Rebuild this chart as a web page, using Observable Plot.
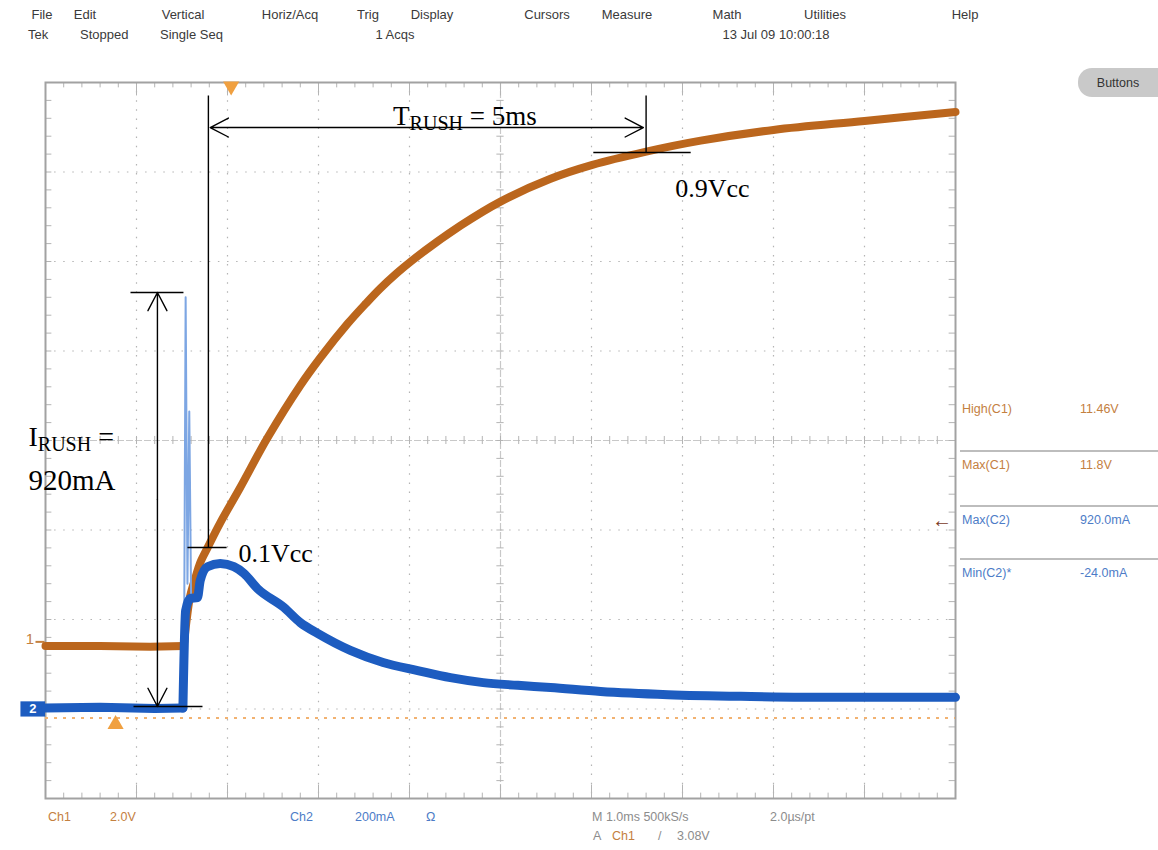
<!DOCTYPE html>
<html><head><meta charset="utf-8">
<script src="https://cdn.jsdelivr.net/npm/d3@7"></script>
<script src="https://cdn.jsdelivr.net/npm/@observablehq/plot@0.6"></script>
<style>
html,body{margin:0;padding:0;background:#fff;}
#chart{position:relative;width:1158px;height:850px;overflow:hidden;}
#chart svg{position:absolute;left:0;top:0;}
.ui{position:absolute;white-space:nowrap;font-family:"Liberation Sans",Arial,sans-serif;font-size:12.5px;line-height:14px;transform:translateY(-50%);}
</style></head><body><div id="chart"></div>
<script>
// ---------- data ----------
// Ch1 (Vcc, 2.0 V/div), time in ms from the left edge of the screen (1 ms/div)
const ch1Time  = [0, 0.60, 1.15, 1.52, 1.55, 1.59, 1.65, 1.70, 1.78, 1.92, 2.14, 2.44, 2.80, 3.02, 3.32, 3.52, 3.68, 3.85, 4.02, 4.56, 5.01, 5.55, 6.01, 6.59, 7.20, 8.00, 9.00, 10.0];
const ch1Volts = [-0.09, -0.09, -0.11, -0.09, 0.47, 1.03, 1.45, 1.77, 2.10, 2.66, 3.45, 4.56, 5.73, 6.35, 7.11, 7.56, 7.90, 8.22, 8.51, 9.30, 9.85, 10.35, 10.66, 10.95, 11.20, 11.44, 11.64, 11.84];
// Ch2 (inrush current, 200 mA/div)
const ch2Time      = [0, 0.60, 1.20, 1.51, 1.54, 1.59, 1.67, 1.70, 1.78, 1.92, 2.07, 2.18, 2.33, 2.62, 2.80, 2.99, 3.35, 3.71, 4.09, 4.45, 4.81, 5.19, 5.55, 6.10, 6.84, 7.75, 8.66, 9.40, 10.0];
const ch2MilliAmps = [2, 4, 1, 2, 220, 247, 249, 287, 318, 325, 318, 303, 269, 227, 193, 169, 131, 104, 86, 70, 59, 53, 48, 39, 32, 28, 26, 26, 26];
// narrow inrush spike on Ch2
const spikeTime      = [1.52, 1.54, 1.56, 1.58, 1.60];
const spikeMilliAmps = [2, 920, 280, 665, 250];

const menuLabels   = ["File","Edit","Vertical","Horiz/Acq","Trig","Display","Cursors","Measure","Math","Utilities","Help"];
const statusLabels = ["Tek","Stopped","Single Seq","1 Acqs","13 Jul 09 10:00:18"];
const measureNames   = ["High(C1)","Max(C1)","Max(C2)","Min(C2)*"];
const measureValues  = ["11.46V","11.8V","920.0mA","-24.0mA"];
const measureChannel = [1, 1, 2, 2];
const annotationText = ["TRUSH = 5ms","0.9Vcc","0.1Vcc","IRUSH =","920mA"];

// ---------- scope settings ----------
const VOLTS_PER_DIV = 2.0, MA_PER_DIV = 200;
const CH1_GROUND = -2.25, CH2_GROUND = -3.0;   // in divisions
const STEP_TIME = 1.515;                        // ms, where the rails switch on
const toDiv1 = v => v / VOLTS_PER_DIV + CH1_GROUND;
const toDiv2 = ma => ma / MA_PER_DIV + CH2_GROUND;

const ch1 = ch1Time.map((t, i) => ({t, v: ch1Volts[i]}));
const ch2 = ch2Time.map((t, i) => ({t, ma: ch2MilliAmps[i]}));
const spike = spikeTime.map((t, i) => ({t, ma: spikeMilliAmps[i]}));
const ch1Flat = ch1.filter(d => d.t <= 1.52), ch1Rise = ch1.filter(d => d.t >= 1.52);
const ch2Flat = ch2.filter(d => d.t <= 1.51), ch2Rise = ch2.filter(d => d.t >= 1.51);

const BROWN = "#bb661d", BLUE = "#1d5cc0", C1TXT = "#c4803f", C2TXT = "#4d7cc7";
const ML = 45, MR = 203, MT = 82, MB = 52;

const minorX = d3.range(0, 51).map(i => i / 5);
const minorY = d3.range(-20, 21).map(i => i / 5);
const gridX = d3.range(1, 10).filter(d => d !== 5);
const gridY = [-3, -2, -1, 1, 2, 3];
const gc = "#b4b4b4";

const serif = "Liberation Serif, Times New Roman, serif";
const seg = (x1, y1, x2, y2) => Plot.link([{x1, y1, x2, y2}], {x1: "x1", y1: "y1", x2: "x2", y2: "y2", stroke: "black", strokeWidth: 1.4});
const arr = (x1, y1, x2, y2) => Plot.arrow([{x1, y1, x2, y2}], {x1: "x1", y1: "y1", x2: "x2", y2: "y2", stroke: "black", strokeWidth: 1.4, headLength: 22, headAngle: 55, bend: 0});
const txt = (s, x, y, size) => Plot.text([s], {x: () => x, y: () => y, text: d => d, textAnchor: "start", lineAnchor: "bottom", fontFamily: serif, fontSize: size, fill: "black"});

const svg = Plot.plot({
  width: 1158, height: 850,
  marginLeft: ML, marginRight: MR, marginTop: MT, marginBottom: MB,
  x: {domain: [0, 10], axis: null},
  y: {domain: [-4, 4], axis: null},
  style: {background: "transparent"},
  marks: [
    // graticule
    Plot.ruleX(gridX, {stroke: gc, strokeWidth: 1.2, strokeDasharray: "1.5,7.6"}),
    Plot.ruleY(gridY, {stroke: gc, strokeWidth: 1.2, strokeDasharray: "1.5,7.6"}),
    Plot.ruleX([5], {stroke: "#c8c8c8", strokeWidth: 1.2, strokeDasharray: "7,2"}),
    Plot.ruleY([0], {stroke: "#c8c8c8", strokeWidth: 1.2, strokeDasharray: "7,2"}),
    Plot.ruleX(minorX, {y1: -0.045, y2: 0.045, stroke: gc}),
    Plot.ruleY(minorY, {x1: 4.96, x2: 5.04, stroke: gc}),
    Plot.ruleX(minorX, {y1: 4, y2: 3.94, stroke: gc}),
    Plot.ruleX(minorX, {y1: -4, y2: -3.94, stroke: gc}),
    Plot.ruleY(minorY, {x1: 0, x2: 0.07, stroke: gc}),
    Plot.ruleY(minorY, {x1: 10, x2: 9.93, stroke: gc}),
    Plot.ruleX(d3.range(0, 11), {y1: -4, y2: -3.85, stroke: gc}),
    Plot.ruleX(d3.range(0, 11), {y1: 4, y2: 3.85, stroke: gc}),
    Plot.frame({stroke: "#a2a2a2", strokeWidth: 2}),
    // trigger level & markers
    Plot.ruleY([-3.10], {x1: 0, x2: 10, stroke: "#f2b271", strokeWidth: 2, strokeDasharray: "3,6"}),
    Plot.dot([{x: 2.04, y: 3.96}], {x: "x", y: "y", symbol: "triangle", r: 6, fill: "#f0a040", rotate: 180}),
    Plot.dot([{x: 0.77, y: -3.17}], {x: "x", y: "y", symbol: "triangle", r: 6, fill: "#f0a040"}),
    // channel ground markers
    Plot.text(["1"], {x: () => -0.17, y: () => toDiv1(0) + 0.03, fill: C1TXT, fontSize: 15, fontFamily: "Liberation Sans, Arial"}),
    Plot.link([{a: -0.11, b: -0.01}], {x1: "a", x2: "b", y1: () => toDiv1(0), y2: () => toDiv1(0), stroke: C1TXT, strokeWidth: 2}),
    Plot.rect([{a: -0.27, b: 0}], {x1: "a", x2: "b", y1: () => toDiv2(0) - 0.09, y2: () => toDiv2(0) + 0.08, fill: BLUE}),
    Plot.text(["2"], {x: () => -0.14, y: () => toDiv2(0), fill: "white", fontSize: 13, fontWeight: "bold", fontFamily: "Liberation Sans, Arial"}),
    // waveforms
    Plot.line(ch1Flat, {x: "t", y: d => toDiv1(d.v), stroke: BROWN, strokeWidth: 8}),
    Plot.line(ch1Rise, {x: "t", y: d => toDiv1(d.v), stroke: BROWN, strokeWidth: 8, curve: "catmull-rom"}),
    Plot.line(spike, {x: "t", y: d => toDiv2(d.ma), stroke: "#7da6e3", strokeWidth: 2}),
    Plot.line(ch2Flat, {x: "t", y: d => toDiv2(d.ma), stroke: BLUE, strokeWidth: 9}),
    Plot.line(ch2Rise, {x: "t", y: d => toDiv2(d.ma), stroke: BLUE, strokeWidth: 9, curve: "monotone-x"}),
    // annotations
    seg(1.79, 3.855, 1.79, -1.196),
    seg(1.56, -1.196, 1.99, -1.196),
    arr(4.19, 3.497, 1.81, 3.497),
    arr(4.19, 3.497, 6.57, 3.497),
    seg(6.60, 3.855, 6.60, 3.218),
    seg(6.02, 3.218, 7.09, 3.218),
    arr(1.23, -0.66, 1.23, 1.654),
    arr(1.23, -0.66, 1.23, -2.972),
    seg(0.934, 1.654, 1.516, 1.654),
    seg(0.967, -2.972, 1.725, -2.972),
    txt(annotationText[0], 3.82, 3.53, 27),
    txt(annotationText[1], 6.92, 2.726, 26),
    txt(annotationText[2], 2.12, -1.352, 26),
    txt(annotationText[3], -0.187, -0.06, 28),
    txt(annotationText[4], -0.187, -0.55, 29)
  ]
});

// subscripts for T_RUSH and I_RUSH
const NS = "http://www.w3.org/2000/svg";
svg.querySelectorAll("text").forEach(t => {
  const m = t.textContent.match(/^([TI])RUSH(.*)$/);
  if (!m) return;
  t.textContent = "";
  const a = document.createElementNS(NS, "tspan"); a.textContent = m[1];
  const b = document.createElementNS(NS, "tspan"); b.textContent = "RUSH"; b.setAttribute("font-size", "20"); b.setAttribute("dy", "5");
  const c = document.createElementNS(NS, "tspan"); c.textContent = m[2]; c.setAttribute("dy", "-5");
  t.append(a, b, c);
});

const chart = document.getElementById("chart");
chart.appendChild(svg);

// ---------- instrument chrome (HTML) ----------
function ui(text, x, y, {color = "#3a3a3a", size = 12.5, anchor = "start", weight = "normal"} = {}) {
  const el = document.createElement("div");
  el.className = "ui";
  el.textContent = text;
  el.style.left = x + "px";
  el.style.top = y + "px";
  el.style.color = color;
  el.style.fontSize = size + "px";
  el.style.fontWeight = weight;
  const tx = anchor === "middle" ? "-50%" : anchor === "end" ? "-100%" : "0";
  el.style.transform = `translate(${tx},-50%)`;
  chart.appendChild(el);
  return el;
}
const menuX = [42, 85, 183, 290, 368, 432, 547, 627, 727, 825, 965];
menuLabels.forEach((s, i) => ui(s, menuX[i], 15, {anchor: "middle", size: 13}));
const statusX = [28, 80, 160, 395, 776];
const statusAnchor = ["start", "start", "start", "middle", "middle"];
statusLabels.forEach((s, i) => ui(s, statusX[i], 35, {anchor: statusAnchor[i], size: 13}));

// Buttons pill
const btn = document.createElement("div");
btn.style.cssText = "position:absolute;left:1078px;top:68px;width:95px;height:29px;border-radius:14px;background:#c9c9c9;";
chart.appendChild(btn);
ui("Buttons", 1118, 83, {anchor: "middle", size: 12.5, color: "#333"});

// measurement panel
const measY = [409, 465, 520, 573];
measureNames.forEach((s, i) => {
  const col = measureChannel[i] === 1 ? C1TXT : C2TXT;
  ui(s, 962, measY[i], {color: col});
  ui(measureValues[i], 1080, measY[i], {color: col});
  if (i > 0) {
    const ln = document.createElement("div");
    ln.style.cssText = `position:absolute;left:960px;top:${measY[i] - 15}px;width:198px;height:2px;background:#bdbdbd;`;
    chart.appendChild(ln);
  }
});
ui("←", 932, 520, {color: "#7a3b1f", size: 20});

// bottom status bar
ui("Ch1", 48, 817, {color: C1TXT});
ui("2.0V", 110, 817, {color: C1TXT});
ui("Ch2", 290, 817, {color: C2TXT});
ui("200mA", 355, 817, {color: C2TXT});
ui("Ω", 426, 817, {color: C2TXT});
ui("M 1.0ms 500kS/s", 592, 817, {color: "#8c8c8c"});
ui("2.0µs/pt", 770, 817, {color: "#8c8c8c"});
ui("A", 593, 836, {color: "#8c8c8c"});
ui("Ch1", 612, 836, {color: C1TXT});
ui("/", 658, 836, {color: "#8c8c8c"});
ui("3.08V", 677, 836, {color: "#8c8c8c"});
</script>
</body></html>
